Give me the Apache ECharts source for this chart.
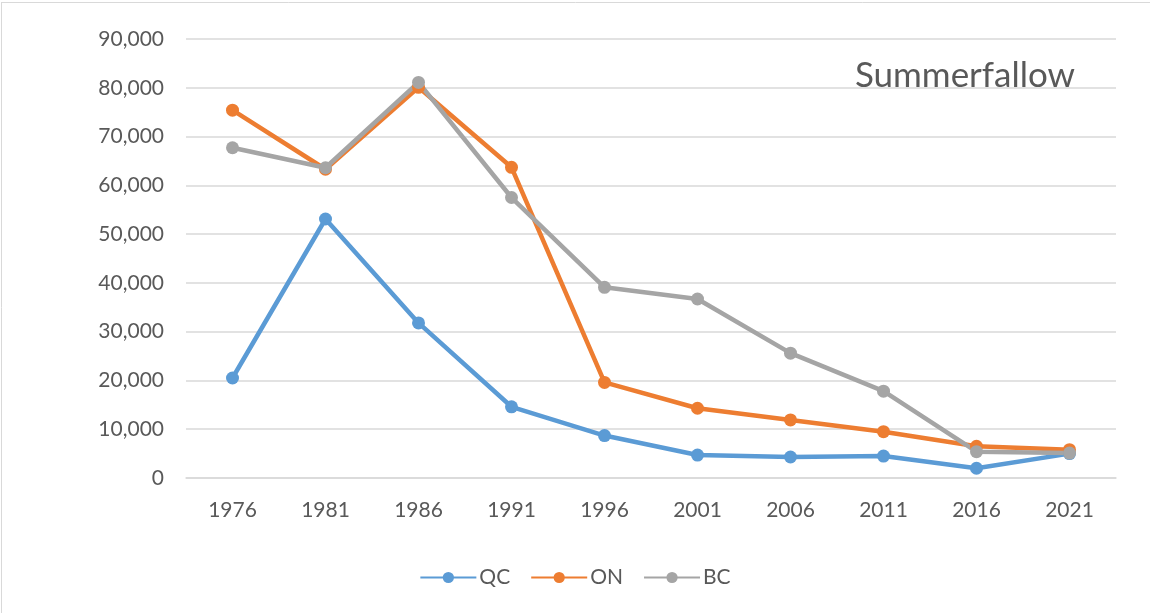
<!DOCTYPE html>
<html>
<head>
<meta charset="utf-8">
<script src="https://cdn.jsdelivr.net/npm/echarts@6/dist/echarts.min.js"></script>
<style>
  body { margin: 0; background: #fff; }
  #chart { width: 1150px; height: 613px; }
</style>
</head>
<body>
<div id="chart"></div>
<script>
// census years
var years = ['1976', '1981', '1986', '1991', '1996', '2001', '2006', '2011', '2016', '2021'];
// summerfallow area by province
var qcValues = [20500, 53100, 31800, 14600, 8700, 4700, 4300, 4500, 2000, 5000];
var onValues = [75400, 63300, 80100, 63700, 19600, 14300, 11900, 9500, 6500, 5800];
var bcValues = [67700, 63600, 81100, 57500, 39100, 36700, 25600, 17800, 5400, 5100];

var textColor = '#595959';
var fontName = 'Lato, "Open Sans", sans-serif';

var chart = echarts.init(document.getElementById('chart'));

function serie(name, color, data) {
	return {
		name: name,
		type: 'line',
		data: data,
		symbol: 'circle',
		symbolSize: 13,
		lineStyle: { width: 4.5, color: color },
		itemStyle: { color: color },
		emphasis: { disabled: true }
	};
}

chart.setOption({
	animation: false,
	textStyle: { fontFamily: fontName },
	title: {
		text: 'Summerfallow',
		right: 70,
		top: 53,
		textStyle: { fontSize: 35, fontWeight: 'normal', color: textColor, fontFamily: fontName }
	},
	legend: {
		data: ['QC', 'ON', 'BC'],
		bottom: 20,
		left: 'center',
		itemWidth: 56,
		itemHeight: 14,
		itemGap: 20,
		textStyle: { fontSize: 21, color: textColor, fontFamily: fontName, padding: [0, 0, 0, -2] }
	},
	grid: { left: 186, right: 34, top: 39, bottom: 135 },
	xAxis: {
		type: 'category',
		data: years,
		boundaryGap: true,
		axisLine: { lineStyle: { color: '#d9d9d9', width: 1.5 } },
		axisTick: { show: false },
		axisLabel: { color: textColor, fontSize: 21, margin: 22, fontFamily: fontName }
	},
	yAxis: {
		type: 'value',
		min: 0,
		max: 90000,
		interval: 10000,
		axisLine: { show: false },
		axisTick: { show: false },
		splitLine: { lineStyle: { color: '#d9d9d9', width: 1.5 } },
		axisLabel: {
			color: textColor, fontSize: 21, margin: 22, fontFamily: fontName,
			formatter: function (v) { return v.toLocaleString('en-US'); }
		}
	},
	graphic: [
		{ type: 'line', shape: { x1: 1, y1: 2.5, x2: 1150, y2: 2.5 }, style: { stroke: '#d9d9d9', lineWidth: 1 } },
		{ type: 'line', shape: { x1: 1.5, y1: 2, x2: 1.5, y2: 613 }, style: { stroke: '#d9d9d9', lineWidth: 1 } }
	],
	series: [
		serie('QC', '#5b9bd5', qcValues),
		serie('ON', '#ed7d31', onValues),
		serie('BC', '#a5a5a5', bcValues)
	]
});
</script>
</body>
</html>
